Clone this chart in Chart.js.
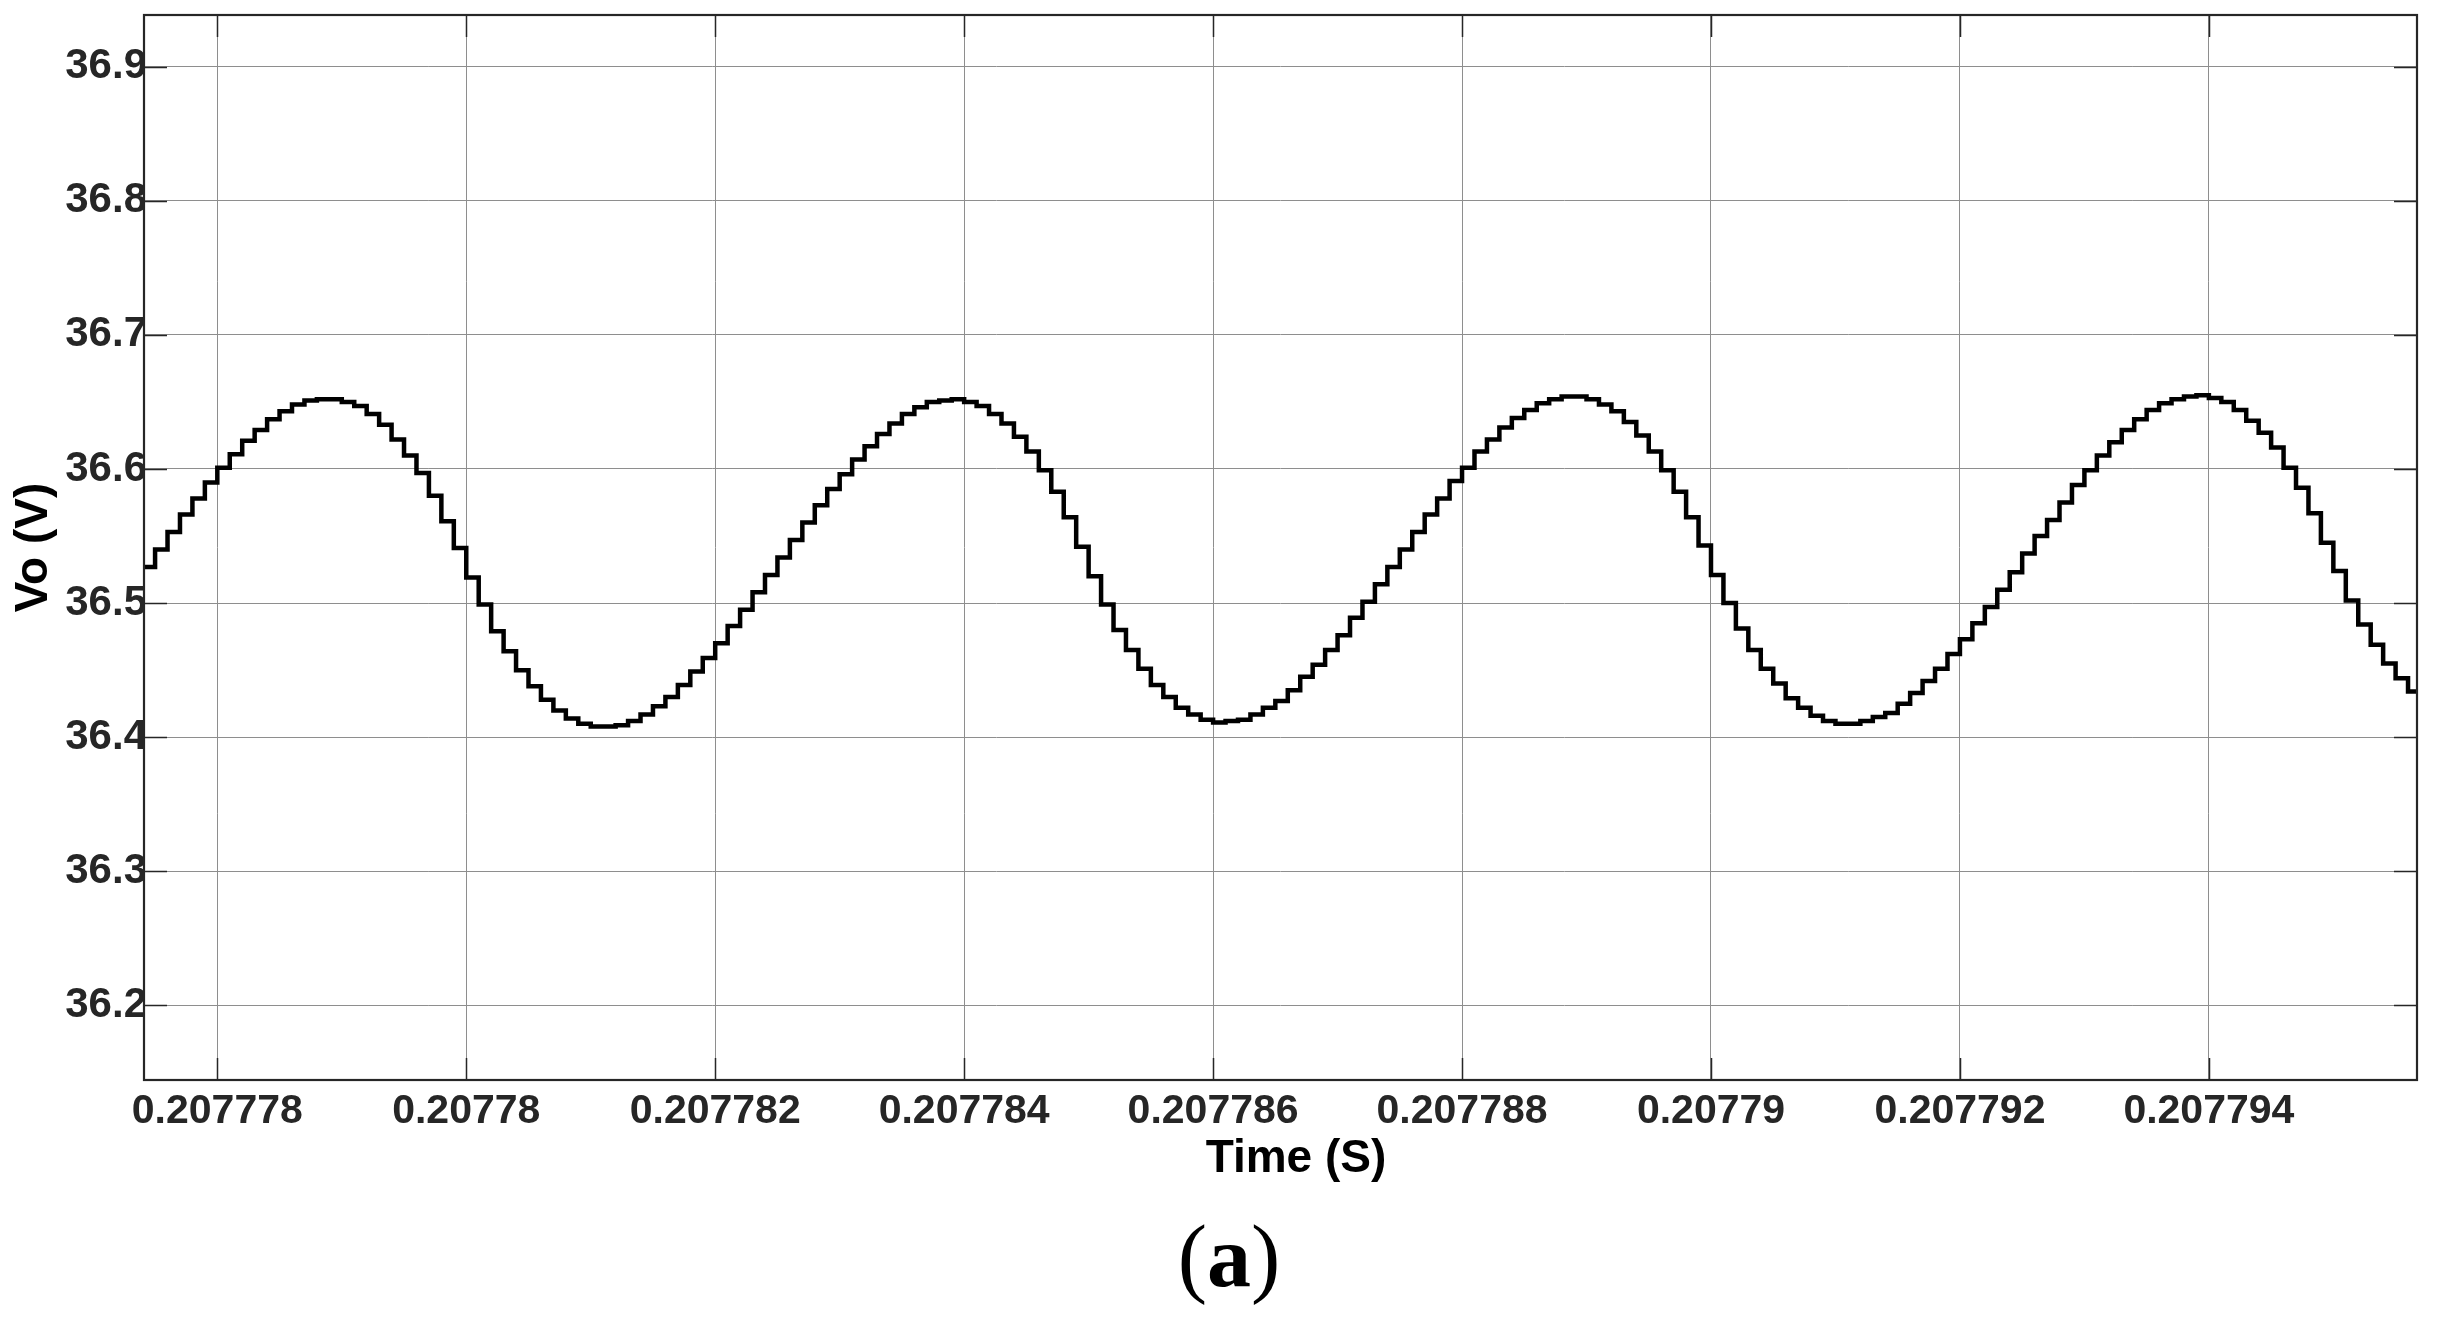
<!DOCTYPE html>
<html>
<head>
<meta charset="utf-8">
<script src="https://cdn.jsdelivr.net/npm/chart.js@4/dist/chart.umd.min.js"></script>
<style>
  html, body { margin: 0; padding: 0; background: #ffffff; }
  #wrap { position: relative; width: 2446px; height: 1319px; overflow: hidden; }
  #c { position: absolute; left: 0; top: 0; }
  #xtitle {
    position: absolute; left: 0; width: 2592px; top: 1129px;
    text-align: center; font-family: "Liberation Sans", Arial, sans-serif;
    font-weight: bold; font-size: 46px; line-height: 55px; color: #000;
    white-space: nowrap;
  }
  #caption {
    position: absolute; left: 0; width: 2458px; top: 1207px;
    text-align: center; font-family: "Liberation Serif", "DejaVu Serif", serif;
    font-size: 88px; line-height: 100px; color: #000;
  }
</style>
</head>
<body>
<div id="wrap">
  <canvas id="c" width="2446" height="1319"></canvas>
  <div id="xtitle"></div>
  <div id="caption">(<b>a</b>)</div>
</div>
<script>
// ---- data (zero-order-hold samples, 0.1 µs apart) ----
const sampleStart = 0.2077774;   // time of first sample (s)
const sampleStep = 1e-7;         // sample period (s)
const voltage = [
  36.527, 36.540, 36.553, 36.566, 36.578, 36.590,
  36.601, 36.611, 36.621, 36.629, 36.637, 36.643, 36.648, 36.651, 36.652, 36.652,
  36.650, 36.647, 36.641, 36.633, 36.622, 36.610, 36.597, 36.580, 36.561, 36.541,
  36.519, 36.499, 36.479, 36.464, 36.450, 36.438, 36.428, 36.420, 36.414, 36.410,
  36.408, 36.408, 36.409, 36.412, 36.417, 36.423, 36.430, 36.439, 36.449, 36.459,
  36.470, 36.483, 36.495, 36.508, 36.521, 36.534, 36.547, 36.560, 36.573, 36.585,
  36.596, 36.607, 36.617, 36.626, 36.634, 36.641, 36.646, 36.650, 36.651, 36.652,
  36.650, 36.647, 36.641, 36.634, 36.624, 36.613, 36.599, 36.583, 36.564, 36.542,
  36.520, 36.499, 36.480, 36.465, 36.451, 36.439, 36.430, 36.422, 36.417, 36.413,
  36.411, 36.412, 36.413, 36.417, 36.422, 36.427, 36.435, 36.445, 36.454, 36.465,
  36.476, 36.489, 36.501, 36.514, 36.527, 36.540, 36.553, 36.566, 36.578, 36.591,
  36.601, 36.613, 36.622, 36.631, 36.638, 36.644, 36.649, 36.652, 36.654, 36.654,
  36.652, 36.648, 36.643, 36.635, 36.625, 36.613, 36.599, 36.583, 36.564, 36.543,
  36.521, 36.500, 36.481, 36.465, 36.451, 36.440, 36.429, 36.422, 36.416, 36.412,
  36.410, 36.410, 36.412, 36.415, 36.418, 36.425, 36.433, 36.442, 36.451, 36.462,
  36.473, 36.485, 36.497, 36.510, 36.523, 36.537, 36.550, 36.562, 36.575, 36.588,
  36.599, 36.610, 36.620, 36.629, 36.637, 36.644, 36.649, 36.652, 36.654, 36.655,
  36.653, 36.650, 36.644, 36.636, 36.627, 36.616, 36.601, 36.586, 36.567, 36.545,
  36.524, 36.502, 36.484, 36.469, 36.455, 36.444, 36.434, 36.424
];

const xTickValues = [0.207778, 0.20778, 0.207782, 0.207784, 0.207786, 0.207788, 0.20779, 0.207792, 0.207794];
const xTickLabels = ['0.207778', '0.20778', '0.207782', '0.207784', '0.207786', '0.207788', '0.20779', '0.207792', '0.207794'];
const yTickValues = [36.2, 36.3, 36.4, 36.5, 36.6, 36.7, 36.8, 36.9];
const yTickLabels = ['36.2', '36.3', '36.4', '36.5', '36.6', '36.7', '36.8', '36.9'];

const xMin = 0.207777411, xMax = 0.207795672;
const yMin = 36.1444, yMax = 36.9385;

const xLabel = 'Time (S)';
const yLabel = 'Vo (V)';

document.getElementById('xtitle').textContent = xLabel;

// ---- build points ----
const points = voltage.map((v, i) => ({ x: sampleStart + i * sampleStep, y: v }));

const AXIS_COLOR = '#262626';
const GRID_COLOR = '#8e8e8e';
const FONT = '"Liberation Sans", Arial, Helvetica, sans-serif';

const framePlugin = {
  id: 'frame',
  afterDatasetsDraw(chart) {
    const { ctx, chartArea: a, scales } = chart;
    ctx.save();
    ctx.strokeStyle = AXIS_COLOR;
    ctx.lineWidth = 1.5;
    ctx.beginPath();
    scales.y.ticks.forEach(t => {
      const py = Math.round(scales.y.getPixelForValue(t.value)) + 0.5;
      ctx.moveTo(a.left, py); ctx.lineTo(a.left + 23, py);
      ctx.moveTo(a.right, py); ctx.lineTo(a.right - 23, py);
    });
    scales.x.ticks.forEach(t => {
      const px = Math.round(scales.x.getPixelForValue(t.value)) + 0.5;
      ctx.moveTo(px, a.bottom); ctx.lineTo(px, a.bottom - 22);
      ctx.moveTo(px, a.top); ctx.lineTo(px, a.top + 22);
    });
    ctx.stroke();
    ctx.lineWidth = 2.2;
    ctx.strokeRect(a.left, a.top, a.right - a.left, a.bottom - a.top);
    ctx.restore();
  }
};

new Chart(document.getElementById('c'), {
  type: 'line',
  data: {
    datasets: [{
      data: points,
      borderColor: '#000000',
      borderWidth: 4.5,
      pointRadius: 0,
      stepped: 'before',
      fill: false,
      tension: 0
    }]
  },
  options: {
    responsive: false,
    animation: false,
    devicePixelRatio: 1,
    parsing: false,
    normalized: true,
    layout: { padding: { left: 0, top: 15, right: 29, bottom: 136 } },
    plugins: { legend: { display: false }, tooltip: { enabled: false } },
    scales: {
      x: {
        type: 'linear',
        min: xMin, max: xMax,
        afterBuildTicks(scale) { scale.ticks = xTickValues.map(v => ({ value: v })); },
        afterFit(scale) { scale.height = 103; scale.paddingLeft = 0; scale.paddingRight = 0; },
        grid: { color: GRID_COLOR, lineWidth: 1, drawTicks: false },
        border: { display: false },
        ticks: {
          autoSkip: false, maxRotation: 0, minRotation: 0, padding: 7,
          color: AXIS_COLOR,
          font: { family: FONT, size: 41, weight: 'bold' },
          callback(value) {
            const i = xTickValues.findIndex(v => Math.abs(v - value) < 1e-10);
            return i >= 0 ? xTickLabels[i] : '';
          }
        },
        title: { display: false }
      },
      y: {
        type: 'linear',
        min: yMin, max: yMax,
        afterBuildTicks(scale) { scale.ticks = yTickValues.map(v => ({ value: v })); },
        afterFit(scale) { scale.width = 144; scale.paddingTop = 0; scale.paddingBottom = 0; },
        grid: { color: GRID_COLOR, lineWidth: 1, drawTicks: false },
        border: { display: false },
        ticks: {
          autoSkip: false, padding: -3,
          color: AXIS_COLOR,
          font: { family: FONT, size: 42, weight: 'bold' },
          callback(value) {
            const i = yTickValues.findIndex(v => Math.abs(v - value) < 1e-9);
            return i >= 0 ? yTickLabels[i] : '';
          }
        },
        title: {
          display: true, text: yLabel, color: '#000000',
          font: { family: FONT, size: 46, weight: 'bold' },
          padding: { top: 7, bottom: 0 }
        }
      }
    }
  },
  plugins: [framePlugin]
});
</script>
</body>
</html>
